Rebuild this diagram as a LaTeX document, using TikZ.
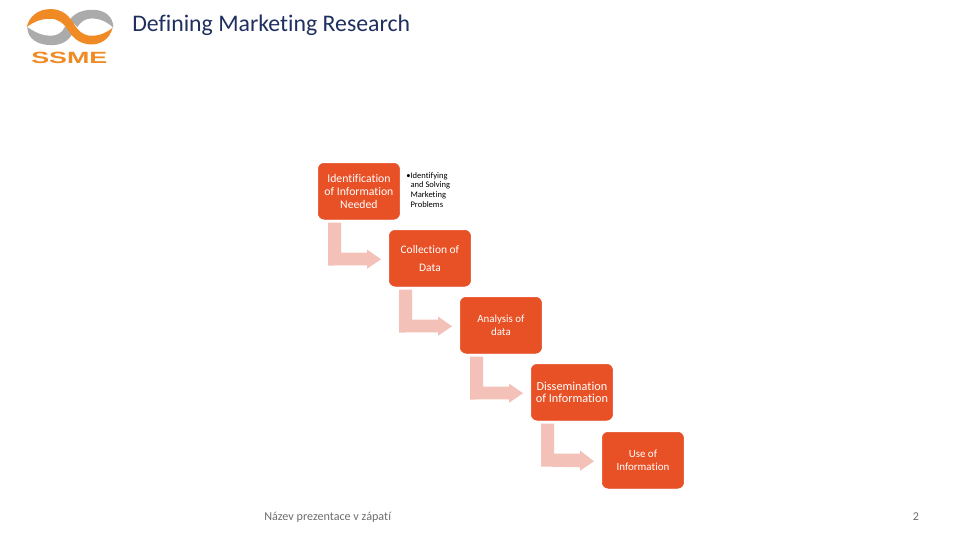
\documentclass[tikz,border=0pt]{standalone}
\usepackage{fontspec}
\setmainfont{Carlito}[Ligatures=NoCommon]
\newfontfamily\logofont{Liberation Sans}
\usetikzlibrary{calc}
\definecolor{boxfill}{HTML}{E85025}
\definecolor{arrowfill}{HTML}{F4C1B9}
\definecolor{titleblue}{HTML}{1F2F5F}
\definecolor{logoorange}{HTML}{F08A24}
\definecolor{logogray}{HTML}{ABABAB}
\definecolor{footgray}{HTML}{6E6E6E}
\tikzset{
  stepbox/.style={fill=boxfill,draw=boxfill,rounded corners=4.5pt,minimum width=61pt,minimum height=42pt,
    inner sep=0pt,text=white,align=center,anchor=north west,font=\fontsize{8.8pt}{9.6pt}\selectfont},
  bendarrow/.style={fill=arrowfill,draw=none},
  x=0.75pt,y=-0.75pt
}
\newcommand{\bendlink}[2]{%
  \fill[bendarrow] ($(#1.south west)+(10,3)$) -- ++(13,0) -- ++(0,30) -- ++(26,0) -- ++(0,-3)
    -- ($(#2.west)+(-8,1)$) -- ($(#2.west)+(-22,10.5)$) -- ++(0,-3.5) -- ($(#1.south west)+(10,46)$) -- cycle;}
\begin{document}
\begin{tikzpicture}
\useasboundingbox (0,0) rectangle (960,540);
\fill[white] (0,0) rectangle (960,540);
% logo
\begin{scope}[shift={(20,6.3)},x=0.25pt,y=-0.26pt]
\fill[logogray] (22,60) .. controls (22,95) and (55,112) .. (95,112) .. controls (125,112) and (145,100) .. (158,78)
  -- (135,58) .. controls (128,76) and (112,85) .. (92,85) .. controls (70,85) and (50,78) .. (22,60) -- cycle;
\fill[logogray] (150,38) .. controls (165,18) and (190,10) .. (218,10) .. controls (255,10) and (280,30) .. (280,62)
  .. controls (262,45) and (240,35) .. (215,35) .. controls (195,35) and (182,45) .. (172,60) -- cycle;
\fill[logoorange] (20,60) .. controls (28,28) and (55,8) .. (92,8) .. controls (125,8) and (145,25) .. (160,48)
  .. controls (175,72) and (190,85) .. (215,85) .. controls (240,85) and (262,75) .. (278,62)
  .. controls (270,92) and (245,110) .. (215,110) .. controls (180,110) and (160,92) .. (145,70)
  .. controls (130,48) and (115,36) .. (90,36) .. controls (60,36) and (40,46) .. (20,60) -- cycle;
\end{scope}
\node[inner sep=0pt,text=logoorange,font=\logofont\bfseries\fontsize{12.2pt}{12pt}\selectfont,xscale=1.65] (logo) at (69.3,58) {SSME};
% title
\node[inner sep=0pt,anchor=west,text=titleblue,font=\fontsize{17.85pt}{20pt}\selectfont] (title) at (132,25) {Defining Marketing Research};
% boxes
\node[stepbox] (b1) at (318,163) {Identification\\of Information\\Needed};
\node[stepbox,font=\fontsize{8.6pt}{13.5pt}\selectfont] (b2) at (389,230) {Collection of\\Data};
\node[stepbox,font=\fontsize{8.2pt}{9.6pt}\selectfont] (b3) at (460,297) {Analysis of\\data};
\node[stepbox,font=\fontsize{9.2pt}{9.6pt}\selectfont] (b4) at (531,364) {Dissemination\\of Information};
\node[stepbox,font=\fontsize{8.2pt}{9.6pt}\selectfont] (b5) at (602,432) {Use of\\Information};
\bendlink{b1}{b2}
\bendlink{b2}{b3}
\bendlink{b3}{b4}
\bendlink{b4}{b5}
% note
\node[inner sep=0pt,anchor=north west,align=left,font=\fontsize{6.4pt}{7.25pt}\selectfont] (note) at (406,172) {•Identifying\\\hspace*{3.2pt}and Solving\\\hspace*{3.2pt}Marketing\\\hspace*{3.2pt}Problems};
% footer
\node[inner sep=0pt,anchor=west,text=footgray,font=\fontsize{9.1pt}{10pt}\selectfont] (foot) at (264,517) {Název prezentace v zápatí};
\node[inner sep=0pt,text=footgray,font=\fontsize{9pt}{10pt}\selectfont] (page) at (916,517) {2};
\end{tikzpicture}
\end{document}
